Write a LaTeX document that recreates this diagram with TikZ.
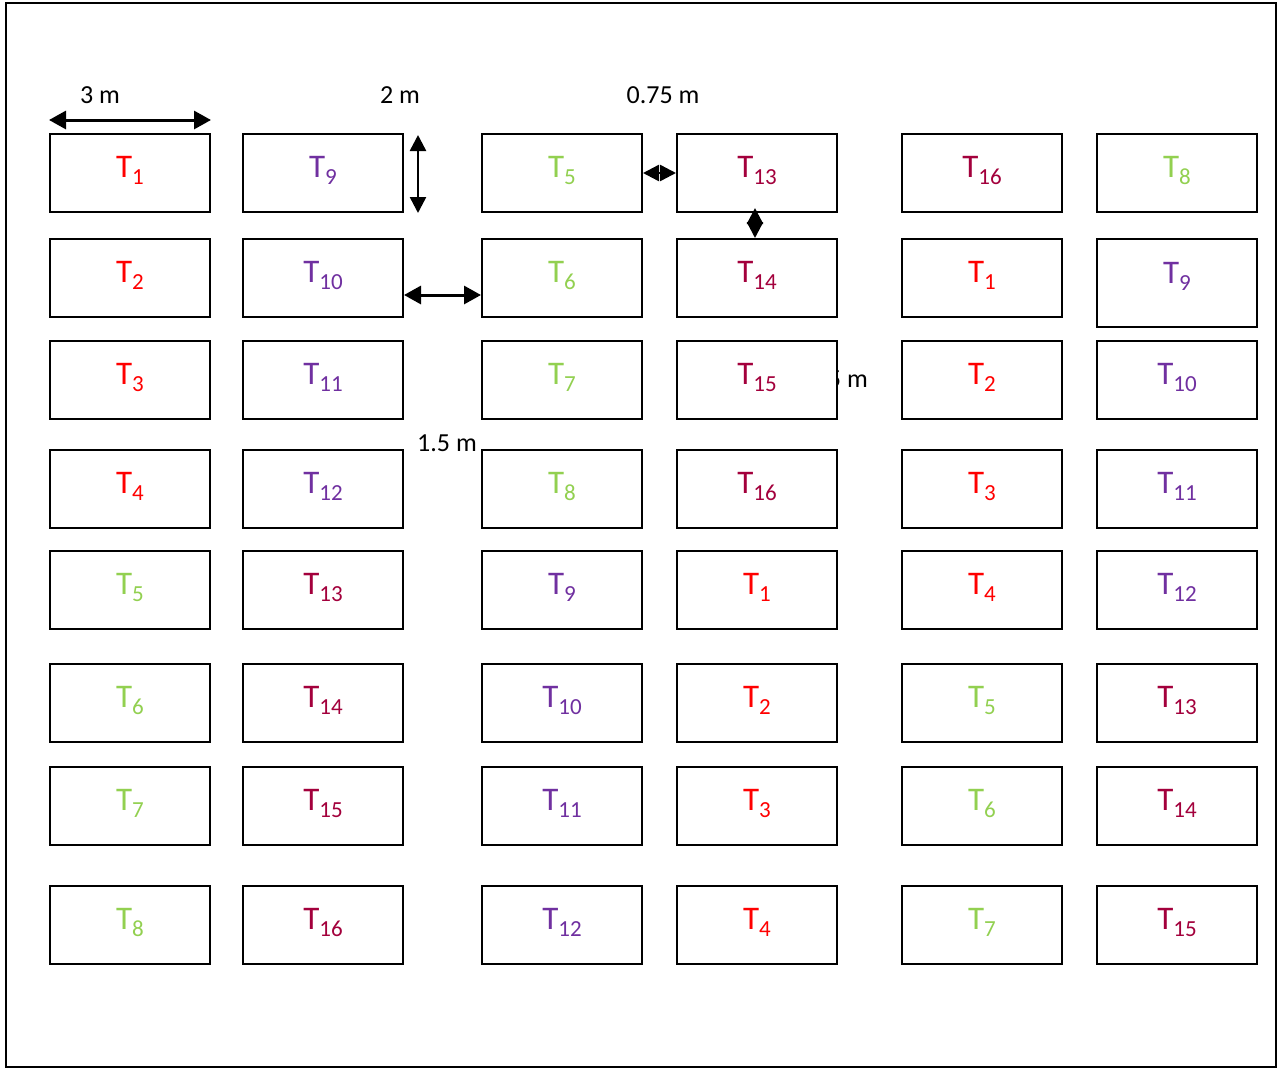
\documentclass[tikz,border=0pt]{standalone}
\usepackage{fontspec}
\setmainfont{Carlito}
\usetikzlibrary{arrows.meta,calc}
\definecolor{tc0}{RGB}{255,0,0}
\definecolor{tc1}{RGB}{146,208,80}
\definecolor{tc2}{RGB}{112,48,160}
\definecolor{tc3}{RGB}{163,0,60}
\newcommand\tlabel[1]{T\raisebox{-7.5pt}{\fontsize{23}{23}\selectfont #1}}
\tikzset{
  box/.style={draw=black, line width=2pt, fill=white, minimum width=160pt, inner sep=0pt,
    font=\fontsize{33}{33}\selectfont, text height=21pt},
  dimlbl/.style={font=\fontsize{26}{26}\selectfont, inner sep=0pt},
  arr/.style={line width=3pt, {Triangle[length=17pt,width=18pt]}-{Triangle[length=17pt,width=18pt]}},
  sarr/.style={line width=2.5pt, {Triangle[length=16pt,width=16pt]}-{Triangle[length=16pt,width=16pt]}}
}
\begin{document}
\begin{tikzpicture}[x=1pt,y=-1pt]
\useasboundingbox (0,0) rectangle (1280,1069);
\draw[line width=2pt] (6,3) rectangle (1276,1067);
% labels (the hidden one lies under a box)
\node[dimlbl] (l3) at (100,95) {3 m};
\node[dimlbl] (l2) at (400,95) {2 m};
\node[dimlbl] (l075) at (663,95) {0.75 m};
\node[dimlbl, anchor=east] (l15) at (477,443) {1.5 m};
\node[dimlbl, anchor=east] (lhid) at (868,379) {1.5 m};
% boxes
\foreach \r/\top/\lst in {1/134/{1,9,5,13,16,8},2/239/{2,10,6,14,1,9},3/341/{3,11,7,15,2,10},4/450/{4,12,8,16,3,11},5/551/{5,13,9,1,4,12},6/664/{6,14,10,2,5,13},7/767/{7,15,11,3,6,14},8/886/{8,16,12,4,7,15}}{
  \foreach \n [count=\c] in \lst {
    \pgfmathsetmacro\lft{{50,243,482,677,902,1097}[\c-1]}
    \pgfmathsetmacro\hh{(\r==2 && \c==6) ? 88 : 78}
    \pgfmathsetmacro\dd{(\r==2 && \c==6) ? 21 : 13}
    \pgfmathtruncatemacro\g{int((\n-1)/4)}
    \node[box, text=tc\g, minimum height=\hh pt, text depth=\dd pt] (b\r\c) at (\lft+80,\top+\hh/2) {\tlabel{\n}};
  }
}
% dimension arrows
\draw[arr] ([yshift=13pt]b11.north west) -- ([yshift=13pt]b11.north east);
\draw[sarr] ([xshift=14pt,yshift=-2pt]b12.north east) -- ([xshift=14pt]b12.south east);
\draw[sarr] (b13.east) -- (b14.west);
\draw[sarr] ([xshift=-2pt,yshift=5pt]b14.south) -- ([xshift=-2pt]b24.north);
\draw[arr] ([yshift=-17pt]b22.east) -- ([yshift=-17pt]b23.west);
\end{tikzpicture}
\end{document}
